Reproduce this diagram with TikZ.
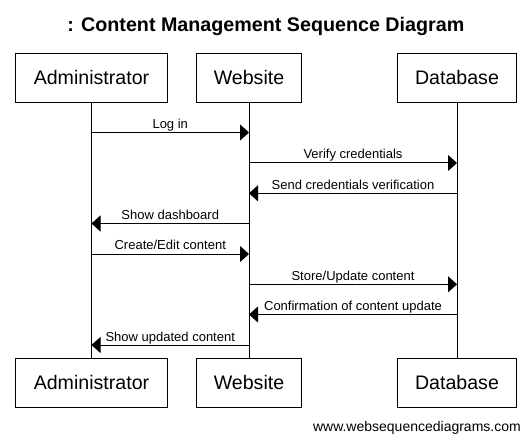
\documentclass[tikz,border=0pt]{standalone}
\usepackage{fontspec}
\setmainfont{Liberation Sans}
\usetikzlibrary{arrows.meta}
\begin{document}
\begin{tikzpicture}[x=1bp,y=-1bp,
  actor/.style={draw, line width=1bp, minimum height=49bp, inner sep=0pt,
    font=\fontsize{19.6bp}{23bp}\selectfont, anchor=center},
  msg/.style={line width=1bp, -{Triangle[length=9bp,width=16bp]}},
  lbl/.style={font=\fontsize{13bp}{15bp}\selectfont, anchor=base, inner sep=0pt, yshift=4bp},
  life/.style={line width=1bp}]
\fill[white] (0,0) rectangle (531,442);
\useasboundingbox (0,0) rectangle (531,442);

\node[font=\bfseries\fontsize{19.7bp}{24bp}\selectfont, anchor=base, inner sep=0pt] (title) at (265.8,32) {: Content Management Sequence Diagram};

\node[actor, minimum width=151.5bp] (adm) at (91.5,77.8) {Administrator};
\node[actor, minimum width=105.7bp] (web) at (249,77.8) {Website};
\node[actor, minimum width=119.4bp] (db) at (457,77.8) {Database};

\node[actor, minimum width=151.5bp] (admB) at (91.5,382.8) {Administrator};
\node[actor, minimum width=105.7bp] (webB) at (249,382.8) {Website};
\node[actor, minimum width=119.4bp] (dbB) at (457,382.8) {Database};

\draw[life] (adm) -- (admB);
\draw[life] (web) -- (webB);
\draw[life] (db) -- (dbB);

\draw[msg] (adm |- 0,132.5) -- node[lbl] (l1) {Log in} (web |- 0,132.5);
\draw[msg] (web |- 0,163) -- node[lbl] (l2) {Verify credentials} (db |- 0,163);
\draw[msg] (db |- 0,193.3) -- node[lbl] (l3) {Send credentials verification} (web |- 0,193.3);
\draw[msg] (web |- 0,223.5) -- node[lbl] (l4) {Show dashboard} (adm |- 0,223.5);
\draw[msg] (adm |- 0,254) -- node[lbl] (l5) {Create/Edit content} (web |- 0,254);
\draw[msg] (web |- 0,284.3) -- node[lbl] (l6) {Store/Update content} (db |- 0,284.3);
\draw[msg] (db |- 0,314.5) -- node[lbl] (l7) {Confirmation of content update} (web |- 0,314.5);
\draw[msg] (web |- 0,345) -- node[lbl] (l8) {Show updated content} (adm |- 0,345);

\node[anchor=base east, inner sep=0pt, font=\fontsize{14bp}{16bp}\selectfont] (foot) at (521,431) {www.websequencediagrams.com};
\end{tikzpicture}
\end{document}
